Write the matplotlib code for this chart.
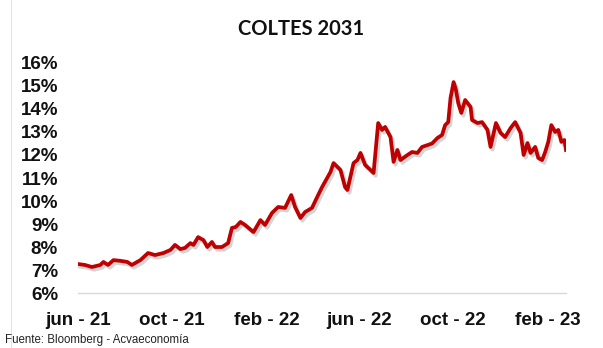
import matplotlib
matplotlib.use("Agg")
import matplotlib.pyplot as plt
import matplotlib.patheffects as pe
from matplotlib.lines import Line2D
import pandas as pd

# COLTES 2031 yield (%)
dates = [
    "2021-06-01", "2021-06-10", "2021-06-19", "2021-06-30", "2021-07-04", "2021-07-10",
    "2021-07-17", "2021-07-26", "2021-08-04", "2021-08-10", "2021-08-21", "2021-08-31",
    "2021-09-09", "2021-09-20", "2021-09-29", "2021-10-05", "2021-10-12", "2021-10-18",
    "2021-10-25", "2021-10-29", "2021-11-04", "2021-11-11", "2021-11-16", "2021-11-22",
    "2021-11-26", "2021-12-05", "2021-12-13", "2021-12-18", "2021-12-23", "2021-12-29",
    "2022-01-04", "2022-01-15", "2022-01-24", "2022-01-30", "2022-02-08", "2022-02-16",
    "2022-02-25", "2022-03-05", "2022-03-10", "2022-03-17", "2022-03-23", "2022-04-01",
    "2022-04-09", "2022-04-14", "2022-04-25", "2022-04-29", "2022-05-08", "2022-05-14",
    "2022-05-17", "2022-05-25", "2022-05-30", "2022-06-03", "2022-06-09", "2022-06-16",
    "2022-06-20", "2022-06-26", "2022-07-01", "2022-07-05", "2022-07-12", "2022-07-16",
    "2022-07-21", "2022-07-25", "2022-08-03", "2022-08-09", "2022-08-16", "2022-08-22",
    "2022-08-29", "2022-09-04", "2022-09-11", "2022-09-17", "2022-09-21", "2022-09-25",
    "2022-09-28", "2022-10-02", "2022-10-05", "2022-10-08", "2022-10-12", "2022-10-17",
    "2022-10-24", "2022-10-26", "2022-11-02", "2022-11-08", "2022-11-15", "2022-11-19",
    "2022-11-26", "2022-12-02", "2022-12-08", "2022-12-15", "2022-12-21", "2022-12-28",
    "2023-01-01", "2023-01-06", "2023-01-10", "2023-01-16", "2023-01-20", "2023-01-25",
    "2023-01-29", "2023-02-02", "2023-02-06", "2023-02-11", "2023-02-15", "2023-02-19",
    "2023-02-23", "2023-02-25",
]
yields = [
    7.26, 7.22, 7.13, 7.22, 7.35, 7.22,
    7.43, 7.40, 7.35, 7.22, 7.43, 7.74,
    7.65, 7.74, 7.87, 8.09, 7.91, 7.96,
    8.17, 8.09, 8.43, 8.30, 8.00, 8.22,
    8.00, 8.00, 8.17, 8.83, 8.87, 9.09,
    8.96, 8.65, 9.17, 8.96, 9.48, 9.74,
    9.70, 10.26, 9.74, 9.26, 9.52, 9.70,
    10.26, 10.60, 11.26, 11.65, 11.35, 10.60,
    10.48, 11.65, 11.78, 12.09, 11.57, 11.35,
    11.22, 13.39, 13.09, 13.22, 12.78, 11.70,
    12.22, 11.78, 12.00, 12.13, 12.09, 12.35,
    12.43, 12.50, 12.74, 12.87, 13.30, 13.43,
    14.48, 15.17, 14.83, 14.26, 13.83, 14.39,
    14.09, 13.52, 13.39, 13.43, 13.09, 12.35,
    13.39, 12.96, 12.78, 13.17, 13.43, 12.96,
    12.00, 12.52, 12.09, 12.35, 11.87, 11.78,
    12.13, 12.57, 13.30, 13.00, 13.09, 12.57,
    12.65, 12.22,
]

tick_dates = ["2021-06-01", "2021-10-01", "2022-02-01", "2022-06-01", "2022-10-01", "2023-02-01"]
tick_labels = ["jun - 21", "oct - 21", "feb - 22", "jun - 22", "oct - 22", "feb - 23"]
y_ticks = list(range(6, 17))

title = "COLTES 2031"
source = "Fuente: Bloomberg - Acvaeconomía"

x = pd.to_datetime(dates)

fig = plt.figure(figsize=(6.03, 3.48), dpi=100)
fig.patch.set_facecolor("white")
ax = fig.add_axes([0.1294, 0.158, 0.8092, 0.661])

ax.plot(x, yields, color="#C00000", lw=2.7, solid_joinstyle="round",
        path_effects=[pe.SimpleLineShadow(offset=(1.5, -2), shadow_color="#7f8c8d", alpha=0.35),
                      pe.Normal()])

ax.set_xlim(x[0], x[-1])
ax.set_ylim(6, 16)
ax.set_yticks(y_ticks)
ax.set_yticklabels([f"{v}%" for v in y_ticks])
ax.set_xticks(pd.to_datetime(tick_dates))
ax.set_xticklabels(tick_labels)

for s in ("top", "right", "left"):
    ax.spines[s].set_visible(False)
ax.spines["bottom"].set_color("#D9D9D9")
ax.spines["bottom"].set_linewidth(1.0)

ax.tick_params(axis="both", length=0, colors="#111111")
ax.tick_params(axis="y", pad=14.4)
ax.tick_params(axis="x", pad=13.5)
for lab in ax.get_yticklabels() + ax.get_xticklabels():
    lab.set_fontfamily("Liberation Sans")
    lab.set_fontweight("bold")
    lab.set_fontsize(13.5)

fig.text(0.5, 0.918, title, ha="center", va="center", fontsize=14.5,
         fontweight="bold", family="Lato", color="#111111")
fig.text(0.008, 0.022, source, ha="left", va="center", fontsize=8.3,
         family="Liberation Sans", color="#222222")

# thin frame edge on the left
fig.add_artist(Line2D([11 / 603, 11 / 603], [0, 1], transform=fig.transFigure,
                      color="#E3E3E3", lw=0.8))

fig.savefig("out.png", dpi=100, facecolor="white")
